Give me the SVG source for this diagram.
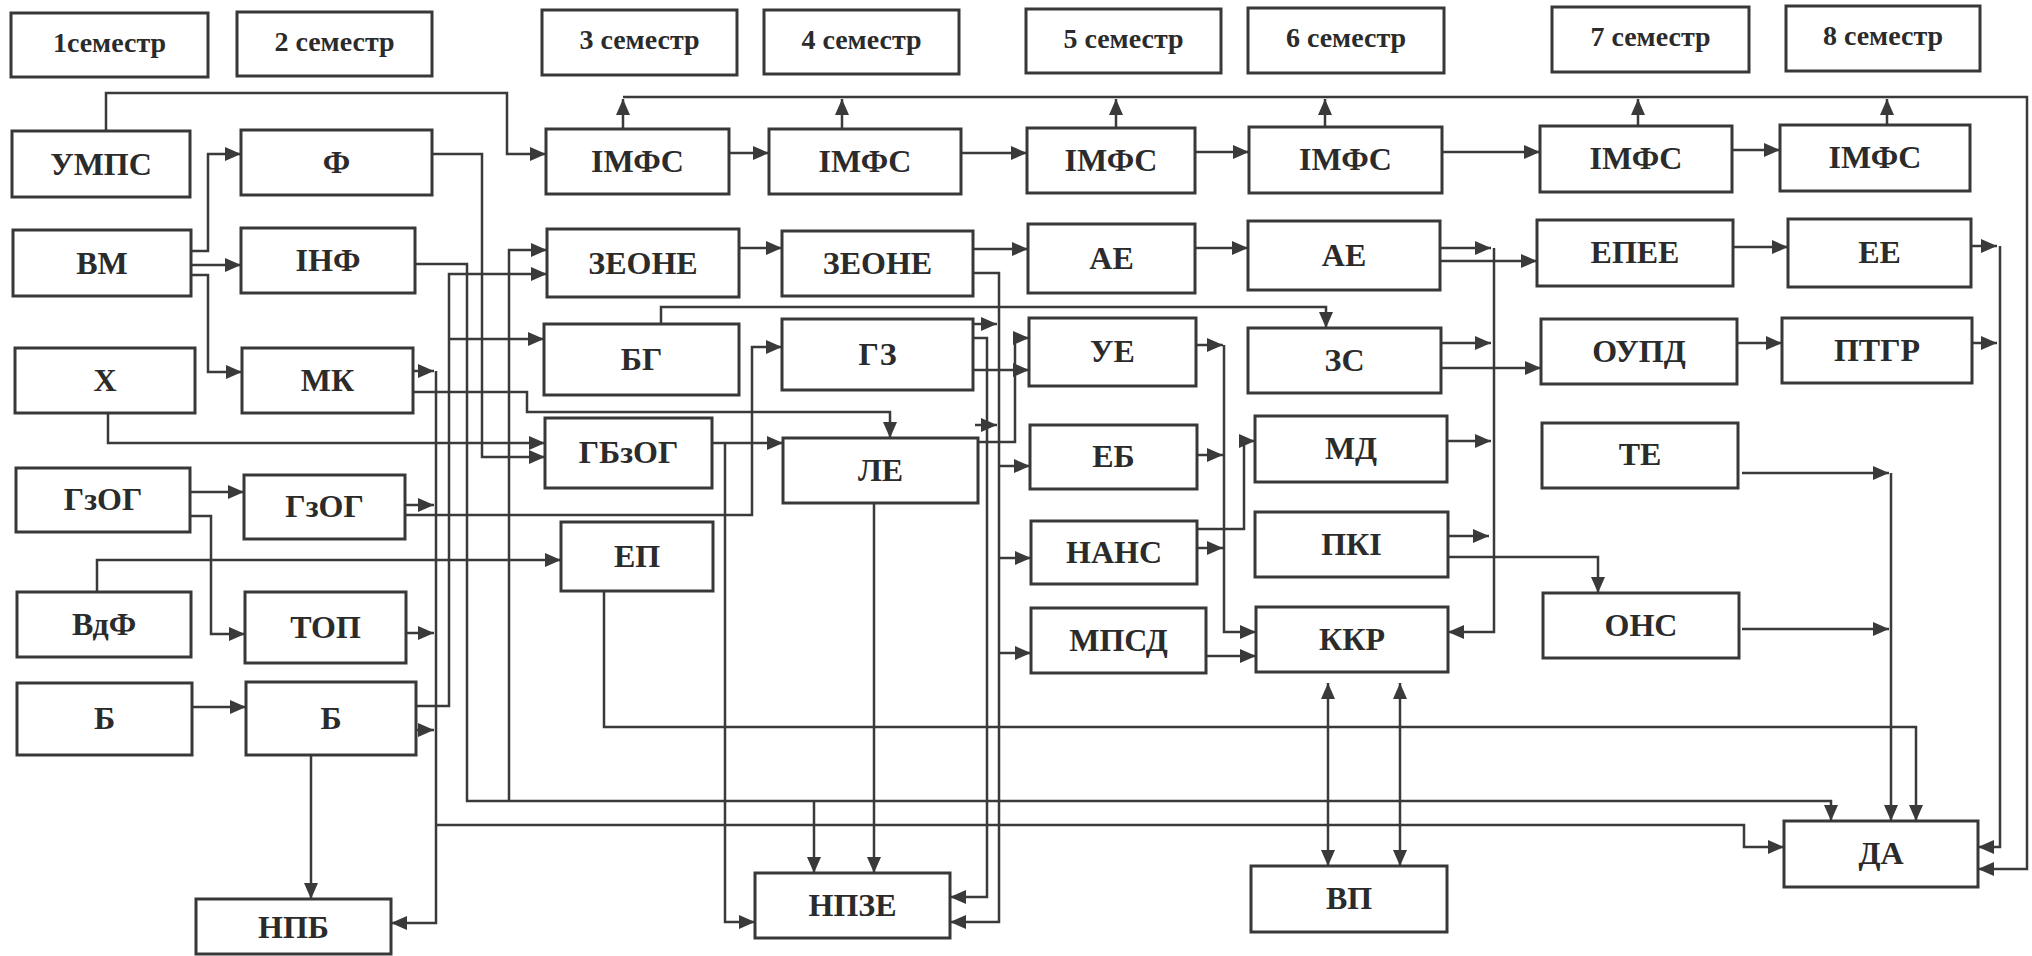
<svg xmlns="http://www.w3.org/2000/svg" width="2032" height="956" viewBox="0 0 2032 956">
<style>
.b{fill:#fff;stroke:#383838;stroke-width:3}
.t{font-family:"Liberation Serif","Times New Roman",serif;font-weight:bold;font-size:32px;fill:#2b2b2b;text-anchor:middle}
.s{font-size:28px}
#connectors path{fill:none;stroke:#3a3a3a;stroke-width:2.5}
#connectors .a{marker-end:url(#ah)}
#connectors .d{marker-end:url(#ah);marker-start:url(#ahs)}
</style>
<defs>
<marker id="ah" viewBox="0 0 16 14" refX="16" refY="7" markerWidth="16" markerHeight="14" markerUnits="userSpaceOnUse" orient="auto"><path d="M0,0 L16,7 L0,14 z" fill="#3a3a3a"/></marker>
<marker id="ahs" viewBox="0 0 16 14" refX="16" refY="7" markerWidth="16" markerHeight="14" markerUnits="userSpaceOnUse" orient="auto-start-reverse"><path d="M0,0 L16,7 L0,14 z" fill="#3a3a3a"/></marker>
</defs>
<rect width="2032" height="956" fill="#fff"/>
<g id="connectors">
<path class="a" d="M106,131 V93 H507 V154 H546"/>
<path class="a" d="M191,251 H208 V154 H241"/>
<path class="a" d="M191,265 H241"/>
<path class="a" d="M191,275 H208 V372 H242"/>
<path class="a" d="M729,153 H769"/>
<path class="a" d="M961,153 H1027"/>
<path class="a" d="M1195,152 H1249"/>
<path class="a" d="M1442,152 H1540"/>
<path class="a" d="M1732,150 H1780"/>
<path class="a" d="M623,97 H2027 V869 H1978"/>
<path class="a" d="M623,129 V99"/>
<path class="a" d="M842,129 V99"/>
<path class="a" d="M1116,128 V99"/>
<path class="a" d="M1325,127 V99"/>
<path class="a" d="M1638,126 V99"/>
<path class="a" d="M1887,125 V99"/>
<path class="a" d="M432,154 H482 V457 H545"/>
<path class="a" d="M415,264 H467 V801 H1831 V821"/>
<path class="a" d="M814,801 V873"/>
<path class="a" d="M509,801 V250 H547"/>
<path class="a" d="M416,706 H449 V274 H547"/>
<path class="a" d="M449,339 H544"/>
<path class="a" d="M413,371 H434"/>
<path class="a" d="M436,371 V923 H391"/>
<path class="a" d="M436,825 H1744 V847 H1784"/>
<path class="a" d="M405,505 H434"/>
<path class="a" d="M406,633 H434"/>
<path class="a" d="M416,730 H434"/>
<path class="a" d="M413,392 H527 V412 H890 V438"/>
<path class="a" d="M108,413 V443 H545"/>
<path class="a" d="M190,492 H244"/>
<path class="a" d="M190,516 H211 V634 H245"/>
<path class="a" d="M405,515 H752 V347 H782"/>
<path class="a" d="M97,592 V560 H561"/>
<path class="a" d="M192,707 H246"/>
<path class="a" d="M311,755 V899"/>
<path class="a" d="M604,591 V727 H1916 V821"/>
<path class="a" d="M712,443 H783"/>
<path class="a" d="M725,443 V922 H755"/>
<path class="a" d="M874,503 V873"/>
<path class="a" d="M739,248 H782"/>
<path class="a" d="M973,249 H1028"/>
<path class="a" d="M973,273 H999 V922 H950"/>
<path class="a" d="M999,466 H1030"/>
<path class="a" d="M999,558 H1031"/>
<path class="a" d="M999,653 H1031"/>
<path class="a" d="M973,324 H997"/>
<path class="a" d="M973,338 H987 V897 H950"/>
<path class="a" d="M973,370 H1029"/>
<path class="a" d="M976,442 H1015 V338 H1029"/>
<path class="a" d="M975,425 H997"/>
<path class="a" d="M661,324 V307 H1326 V328"/>
<path class="a" d="M1195,248 H1248"/>
<path class="a" d="M1196,345 H1223"/>
<path class="a" d="M1224,345 V632 H1256"/>
<path class="a" d="M1197,455 H1223"/>
<path class="a" d="M1197,548 H1223"/>
<path class="a" d="M1197,529 H1244 V441 H1255"/>
<path class="a" d="M1206,656 H1256"/>
<path class="a" d="M1440,248 H1491"/>
<path class="a" d="M1494,248 V632 H1448"/>
<path class="a" d="M1440,261 H1537"/>
<path class="a" d="M1441,343 H1491"/>
<path class="a" d="M1441,368 H1541"/>
<path class="a" d="M1447,441 H1491"/>
<path class="a" d="M1448,536 H1489"/>
<path class="a" d="M1448,557 H1598 V593"/>
<path class="a" d="M1733,247 H1788"/>
<path class="a" d="M1737,343 H1782"/>
<path class="a" d="M1971,246 H1997"/>
<path class="a" d="M1972,343 H1997"/>
<path class="a" d="M2000,246 V847 H1978"/>
<path class="a" d="M1742,473 H1889"/>
<path class="a" d="M1891,473 V821"/>
<path class="a" d="M1742,629 H1889"/>
<path class="d" d="M1328,683 V866"/>
<path class="d" d="M1400,683 V866"/>
</g>
<g id="sem1"><rect class="b" x="11" y="13" width="197" height="64"/><text class="t s" x="109.5" y="52">1семестр</text></g>
<g id="sem2"><rect class="b" x="237" y="12" width="195" height="64"/><text class="t s" x="334.5" y="51">2 семестр</text></g>
<g id="sem3"><rect class="b" x="542" y="10" width="195" height="65"/><text class="t s" x="639.5" y="49">3 семестр</text></g>
<g id="sem4"><rect class="b" x="764" y="10" width="195" height="64"/><text class="t s" x="861.5" y="49">4 семестр</text></g>
<g id="sem5"><rect class="b" x="1026" y="9" width="195" height="64"/><text class="t s" x="1123.5" y="48">5 семестр</text></g>
<g id="sem6"><rect class="b" x="1248" y="8" width="196" height="65"/><text class="t s" x="1346" y="47">6 семестр</text></g>
<g id="sem7"><rect class="b" x="1552" y="7" width="197" height="65"/><text class="t s" x="1650.5" y="46">7 семестр</text></g>
<g id="sem8"><rect class="b" x="1786" y="6" width="194" height="65"/><text class="t s" x="1883" y="45">8 семестр</text></g>
<g id="n-umps"><rect class="b" x="12" y="131" width="178" height="66"/><text class="t" x="101" y="175">УМПС</text></g>
<g id="n-vm"><rect class="b" x="13" y="230" width="178" height="66"/><text class="t" x="102" y="274">ВМ</text></g>
<g id="n-kh"><rect class="b" x="15" y="348" width="180" height="65"/><text class="t" x="105" y="391">Х</text></g>
<g id="n-gzog1"><rect class="b" x="16" y="468" width="174" height="64"/><text class="t" x="103" y="510">ГзОГ</text></g>
<g id="n-vdf"><rect class="b" x="17" y="592" width="174" height="65"/><text class="t" x="104" y="635">ВдФ</text></g>
<g id="n-b1"><rect class="b" x="17" y="683" width="175" height="72"/><text class="t" x="104.5" y="729">Б</text></g>
<g id="n-f"><rect class="b" x="241" y="130" width="191" height="65"/><text class="t" x="336.5" y="173">Ф</text></g>
<g id="n-inf"><rect class="b" x="241" y="228" width="174" height="65"/><text class="t" x="328" y="271">ІНФ</text></g>
<g id="n-mk"><rect class="b" x="242" y="348" width="171" height="65"/><text class="t" x="327.5" y="391">МК</text></g>
<g id="n-gzog2"><rect class="b" x="244" y="475" width="161" height="64"/><text class="t" x="324.5" y="517">ГзОГ</text></g>
<g id="n-top"><rect class="b" x="245" y="592" width="161" height="71"/><text class="t" x="325.5" y="638">ТОП</text></g>
<g id="n-b2"><rect class="b" x="246" y="682" width="170" height="73"/><text class="t" x="331" y="729">Б</text></g>
<g id="n-npb"><rect class="b" x="196" y="899" width="195" height="55"/><text class="t" x="293.5" y="938">НПБ</text></g>
<g id="n-imfs3"><rect class="b" x="546" y="129" width="183" height="65"/><text class="t" x="637.5" y="172">ІМФС</text></g>
<g id="n-zeone3"><rect class="b" x="547" y="229" width="192" height="68"/><text class="t" x="643" y="274">ЗЕОНЕ</text></g>
<g id="n-bg"><rect class="b" x="544" y="324" width="195" height="71"/><text class="t" x="641.5" y="370">БГ</text></g>
<g id="n-gbzog"><rect class="b" x="545" y="418" width="167" height="70"/><text class="t" x="628.5" y="463">ГБзОГ</text></g>
<g id="n-ep"><rect class="b" x="561" y="522" width="152" height="69"/><text class="t" x="637" y="567">ЕП</text></g>
<g id="n-imfs4"><rect class="b" x="769" y="129" width="192" height="65"/><text class="t" x="865" y="172">ІМФС</text></g>
<g id="n-zeone4"><rect class="b" x="782" y="231" width="191" height="65"/><text class="t" x="877.5" y="274">ЗЕОНЕ</text></g>
<g id="n-gz"><rect class="b" x="782" y="319" width="191" height="71"/><text class="t" x="877.5" y="365">ГЗ</text></g>
<g id="n-le"><rect class="b" x="783" y="438" width="195" height="65"/><text class="t" x="880.5" y="481">ЛЕ</text></g>
<g id="n-npze"><rect class="b" x="755" y="873" width="195" height="65"/><text class="t" x="852.5" y="916">НПЗЕ</text></g>
<g id="n-imfs5"><rect class="b" x="1027" y="128" width="168" height="65"/><text class="t" x="1111" y="171">ІМФС</text></g>
<g id="n-ae5"><rect class="b" x="1028" y="224" width="167" height="69"/><text class="t" x="1111.5" y="269">АЕ</text></g>
<g id="n-ue"><rect class="b" x="1029" y="318" width="167" height="68"/><text class="t" x="1112.5" y="362">УЕ</text></g>
<g id="n-eb"><rect class="b" x="1030" y="425" width="167" height="64"/><text class="t" x="1113.5" y="467">ЕБ</text></g>
<g id="n-nans"><rect class="b" x="1031" y="521" width="166" height="63"/><text class="t" x="1114" y="563">НАНС</text></g>
<g id="n-mpsd"><rect class="b" x="1031" y="608" width="175" height="65"/><text class="t" x="1118.5" y="651">МПСД</text></g>
<g id="n-imfs6"><rect class="b" x="1249" y="127" width="193" height="66"/><text class="t" x="1345.5" y="170">ІМФС</text></g>
<g id="n-ae6"><rect class="b" x="1248" y="221" width="192" height="69"/><text class="t" x="1344" y="266">АЕ</text></g>
<g id="n-zs"><rect class="b" x="1248" y="328" width="193" height="65"/><text class="t" x="1344.5" y="371">ЗС</text></g>
<g id="n-md"><rect class="b" x="1255" y="416" width="192" height="66"/><text class="t" x="1351" y="459">МД</text></g>
<g id="n-pki"><rect class="b" x="1255" y="512" width="193" height="65"/><text class="t" x="1351.5" y="555">ПКІ</text></g>
<g id="n-kkr"><rect class="b" x="1256" y="607" width="192" height="65"/><text class="t" x="1352" y="650">ККР</text></g>
<g id="n-vp"><rect class="b" x="1251" y="866" width="196" height="66"/><text class="t" x="1349" y="909">ВП</text></g>
<g id="n-imfs7"><rect class="b" x="1540" y="126" width="192" height="66"/><text class="t" x="1636" y="169">ІМФС</text></g>
<g id="n-epee"><rect class="b" x="1537" y="220" width="196" height="66"/><text class="t" x="1635" y="263">ЕПЕЕ</text></g>
<g id="n-oupd"><rect class="b" x="1541" y="319" width="196" height="65"/><text class="t" x="1639" y="362">ОУПД</text></g>
<g id="n-te"><rect class="b" x="1542" y="423" width="196" height="65"/><text class="t" x="1640" y="465">ТЕ</text></g>
<g id="n-ons"><rect class="b" x="1543" y="593" width="196" height="65"/><text class="t" x="1641" y="636">ОНС</text></g>
<g id="n-imfs8"><rect class="b" x="1780" y="125" width="190" height="66"/><text class="t" x="1875" y="168">ІМФС</text></g>
<g id="n-ee"><rect class="b" x="1788" y="219" width="183" height="68"/><text class="t" x="1879.5" y="263">ЕЕ</text></g>
<g id="n-ptgr"><rect class="b" x="1782" y="318" width="190" height="65"/><text class="t" x="1877" y="361">ПТГР</text></g>
<g id="n-da"><rect class="b" x="1784" y="821" width="194" height="66"/><text class="t" x="1881" y="864">ДА</text></g>
</svg>
